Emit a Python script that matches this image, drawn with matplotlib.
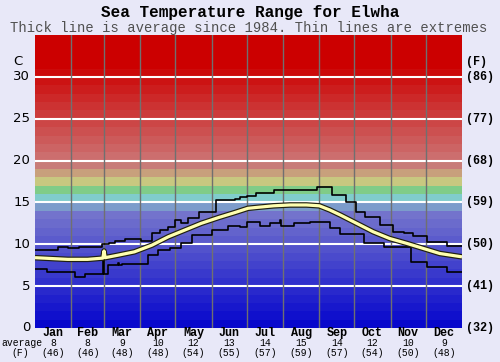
import matplotlib
matplotlib.use("Agg")
import matplotlib.pyplot as plt
import numpy as np

# month labels and monthly averages as printed under the chart
months = ["Jan", "Feb", "Mar", "Apr", "May", "Jun",
          "Jul", "Aug", "Sep", "Oct", "Nov", "Dec"]
avg_c = [8, 8, 9, 10, 12, 13, 14, 15, 14, 12, 10, 9]
avg_f = [46, 46, 48, 48, 54, 55, 57, 59, 57, 54, 50, 48]
month_len = [31, 28, 31, 30, 31, 30, 31, 31, 30, 31, 30, 31]

# daily extremes (step lines): day of year, deg C
max_days = [0, 20, 28, 38, 57, 63, 68, 77, 91, 100, 107, 114, 120, 125, 131,
            140, 155, 171, 175, 181, 189, 204, 221, 241, 254, 266, 274, 282,
            295, 306, 315, 323, 335, 352, 365]
max_vals = [9.3, 9.7, 9.5, 9.65, 10.0, 10.1, 10.4, 10.6, 10.4, 11.3, 11.7,
            12.1, 12.9, 12.6, 13.1, 13.9, 15.3, 15.4, 15.6, 15.8, 16.1, 16.5,
            16.45, 16.9, 15.9, 15.0, 13.9, 13.3, 12.3, 11.5, 11.3, 11.0, 10.3,
            9.8, 9.8]

min_days = [0, 10, 34, 43, 58, 59, 62, 71, 72, 74, 97, 105, 115, 125, 134,
            151, 165, 175, 181, 192, 201, 209, 210, 221, 235, 252, 261, 281,
            298, 321, 335, 352, 365]
min_vals = [7.0, 6.7, 6.05, 6.5, 9.2, 6.5, 7.5, 7.8, 7.5, 7.65, 8.7, 9.3,
            9.6, 10.1, 11.1, 11.7, 12.2, 12.1, 12.7, 12.2, 12.5, 12.9, 12.2,
            12.6, 12.7, 11.9, 11.2, 10.2, 9.7, 7.9, 7.3, 6.7, 6.7]

# long-term average
avg_days = [0, 28, 45, 58, 59, 60, 71, 85, 100, 114, 128, 142, 157, 171, 182,
            189, 204, 218, 232, 243, 252, 261, 275, 289, 303, 318, 332, 346, 365]
avg_vals = [8.4, 8.2, 8.2, 8.35, 9.2, 8.4, 8.7, 9.1, 9.9, 10.9, 11.7, 12.5,
            13.2, 13.8, 14.3, 14.4, 14.6, 14.7, 14.7, 14.6, 14.1, 13.5, 12.5,
            11.5, 10.7, 10.1, 9.5, 8.9, 8.5]

c_ticks = [0, 5, 10, 15, 20, 25, 30]
f_ticks = ["(32)", "(41)", "(50)", "(59)", "(68)", "(77)", "(86)"]


def band_color(t):
    # background colour for the 1 degree band starting at t
    special = {14: "#7c9ccb", 15: "#80cccc", 16: "#80cc88",
               17: "#c8c880", 18: "#c8a07c", 19: "#c87c78"}
    if t in special:
        return special[t]
    if t < 14:
        v = int(8 + t * 8.3)
        return "#%02x%02x%02x" % (v, v, 204)
    g = max(0, int(110 * (1 - (t - 20) / 11.0)))
    return "#%02x%02x%02x" % (204, g, g)


bg = "#e8e8f8"
fig = plt.figure(figsize=(5.0, 3.62), dpi=100, facecolor=bg)
ax = fig.add_axes([0.07, 0.094, 0.854, 0.809])

for t in range(35):
    ax.axhspan(t, t + 1, color=band_color(t), lw=0, zorder=0)

for c in c_ticks[1:]:
    ax.axhline(c, color="white", lw=1.5, zorder=1)

bounds = np.cumsum(month_len)
for b in bounds[:-1]:
    ax.axvline(b, color="#707070", lw=1, zorder=1)

ax.step(max_days, max_vals, where="post", color="black", lw=1.2, zorder=3)
ax.step(min_days, min_vals, where="post", color="black", lw=1.2, zorder=3)
ax.plot(avg_days, avg_vals, color="#202010", lw=4.0, zorder=4,
        solid_capstyle="butt")
ax.plot(avg_days, avg_vals, color="#ffffb0", lw=2.3, zorder=5,
        solid_capstyle="butt")

ax.set_xlim(0, 365)
ax.set_ylim(0, 35)
ax.set_xticks([])
ax.set_yticks([])
for s in ax.spines.values():
    s.set_visible(False)

mono = "Liberation Mono"
for c, f in zip(c_ticks, f_ticks):
    ax.text(-4, c, str(c), ha="right", va="center", fontsize=9.5,
            family="DejaVu Sans", clip_on=False)
    ax.text(368, c, f, ha="left", va="center", fontsize=8.5,
            family=mono, weight="bold", clip_on=False)
ax.text(-11, 31.8, "C", ha="right", va="center", fontsize=9.5,
        family="DejaVu Sans", clip_on=False)
ax.text(368, 31.8, "(F)", ha="left", va="center", fontsize=8.5,
        family=mono, weight="bold", clip_on=False)

starts = np.concatenate([[0], bounds[:-1]])
mids = starts + np.array(month_len) / 2.0
for m, x, c, f in zip(months, mids, avg_c, avg_f):
    ax.text(x, -0.65, m, ha="center", va="center", fontsize=8.5,
            family=mono, weight="bold", clip_on=False)
    ax.text(x, -1.8, str(c), ha="center", va="center", fontsize=7,
            family=mono, clip_on=False)
    ax.text(x, -2.95, "(%d)" % f, ha="center", va="center", fontsize=7,
            family=mono, clip_on=False)
ax.text(-11, -1.8, "average", ha="center", va="center", fontsize=7,
        family=mono, clip_on=False)
ax.text(-13, -2.95, "(F)", ha="center", va="center", fontsize=7,
        family=mono, clip_on=False)

fig.text(0.5, 0.965, "Sea Temperature Range for Elwha", ha="center",
         va="center", fontsize=11.5, family=mono, weight="bold")
fig.text(0.497, 0.922, "Thick line is average since 1984. Thin lines are extremes",
         ha="center", va="center", fontsize=10, family=mono, color="#505050")

fig.savefig("out.png", dpi=100, facecolor=bg)
